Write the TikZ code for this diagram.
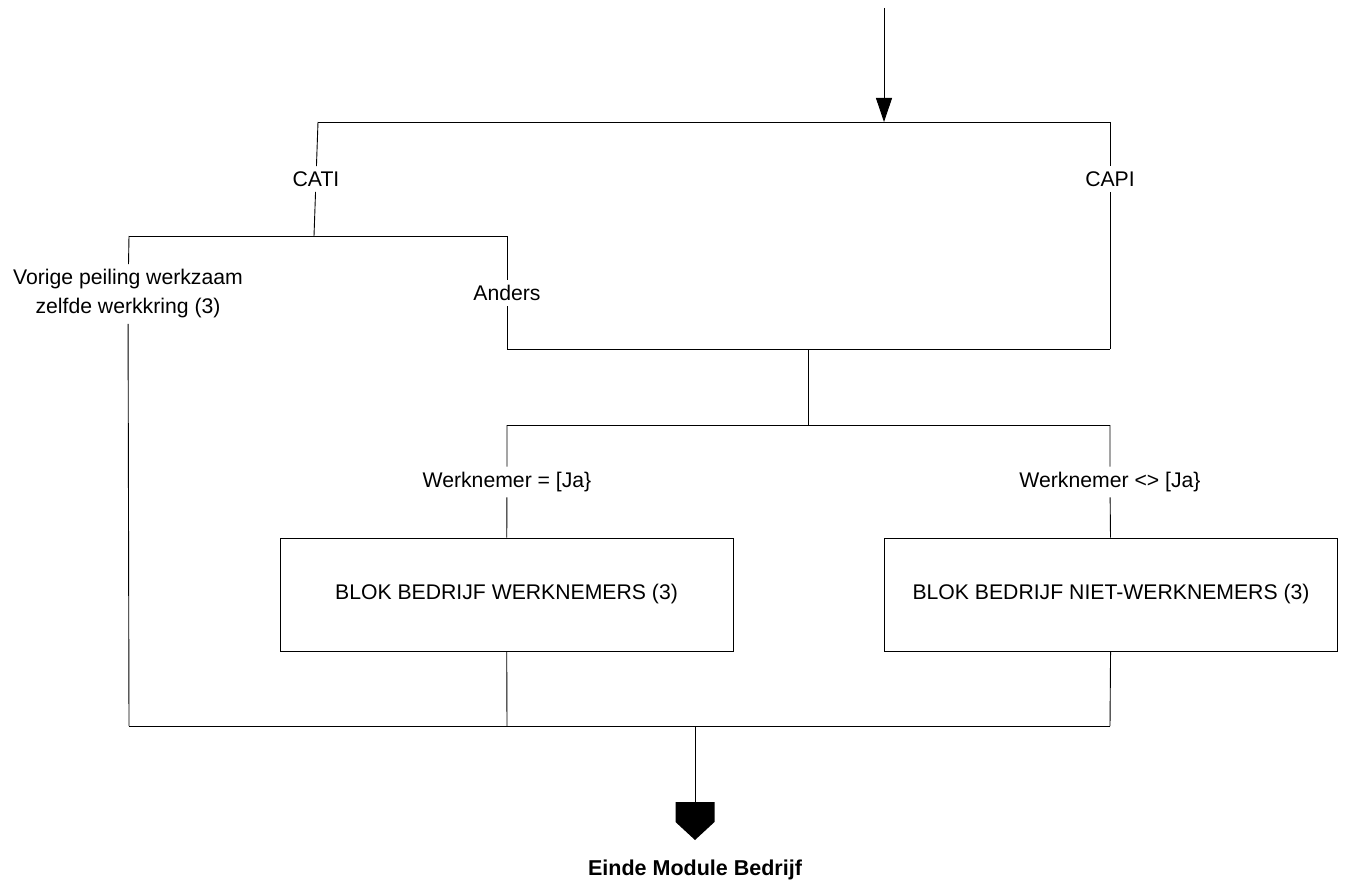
\documentclass[tikz,border=0pt]{standalone}
\usepackage{fontspec}
\setmainfont{Liberation Sans}
\usetikzlibrary{arrows.meta, positioning}

\begin{document}
\begin{tikzpicture}[x=1pt, y=-1pt, >={Triangle[length=24pt, width=16pt]},
                    line width=0.9pt, font=\fontsize{21.2}{29}\selectfont]
                  \tikzset{
                      cond/.style={inner sep=5pt, align=center},
                      blok/.style={draw, minimum width=453pt, minimum height=113pt, inner sep=0pt},
                  }
                  \useasboundingbox (0,0) rectangle (1345,888);

                  % Junctions
                  \coordinate (in) at (884,8);
                  \coordinate (split) at (884,122);
                  \coordinate (c1l) at (318,122);
                  \coordinate (c1r) at (1110,122);
                  \coordinate (c2m) at (314,236);
                  \coordinate (c2l) at (129,236);
                  \coordinate (c2r) at (507,236);
                  \coordinate (c3l) at (507,349);
                  \coordinate (c3m) at (808,349);
                  \coordinate (c3r) at (1110,349);
                  \coordinate (c4m) at (808,425);
                  \coordinate (c4l) at (507,425);
                  \coordinate (c4r) at (1110,425);
                  \coordinate (c7l) at (129,726);
                  \coordinate (c7a) at (507,726);
                  \coordinate (c7m) at (695,726);
                  \coordinate (c7r) at (1110,726);
                  \coordinate (stop) at (695,802);

                  % Conditions
                  \node[cond] (cati) at (316,179) {CATI};
                  \node[cond] (capi) at (1110,179) {CAPI};
                  \node[cond] (vorige) at (128,294) {Vorige peiling werkzaam\\zelfde werkkring (3)};
                  \node[cond] (anders) at (507,293) {Anders};
                  \node[cond] (wn) at (507,482) {Werknemer = [Ja\}};
                  \node[cond] (nwn) at (1110,482) {Werknemer <> [Ja\}};

                  % Blocks
                  \node[blok] (blokA) at (506.5,594.5) {BLOK BEDRIJF WERKNEMERS (3)};
                  \node[blok] (blokB) at (1111,594.5) {BLOK BEDRIJF NIET-WERKNEMERS (3)};

                  % Flow
                  \draw[->] (in) -- (split);
                  \draw (c1l) -- (c1r);
                  \draw (c1l) -- (cati) -- (c2m);
                  \draw (c1r) -- (capi) -- (c3r);
                  \draw (c2l) -- (c2r);
                  \draw (c2l) -- (vorige) -- (c7l);
                  \draw (c2r) -- (anders) -- (c3l);
                  \draw (c3l) -- (c3r);
                  \draw (c3m) -- (c4m);
                  \draw (c4l) -- (c4r);
                  \draw (c4l) -- (wn) -- (blokA);
                  \draw (c4r) -- (nwn) -- (blokB);
                  \draw (blokA) -- (c7a);
                  \draw (blokB) -- (c7r);
                  \draw (c7l) -- (c7r);
                  \draw (c7m) -- (stop);

                  % End
                  \fill (stop) +(-19.5,0) -- +(19.5,0) -- +(19.5,20) -- +(0,38) -- +(-19.5,20) -- cycle;
                  \node[font=\fontsize{21.5}{24}\selectfont\bfseries] (einde) at (695,870) {Einde Module Bedrijf};
              \end{tikzpicture}
\end{document}
